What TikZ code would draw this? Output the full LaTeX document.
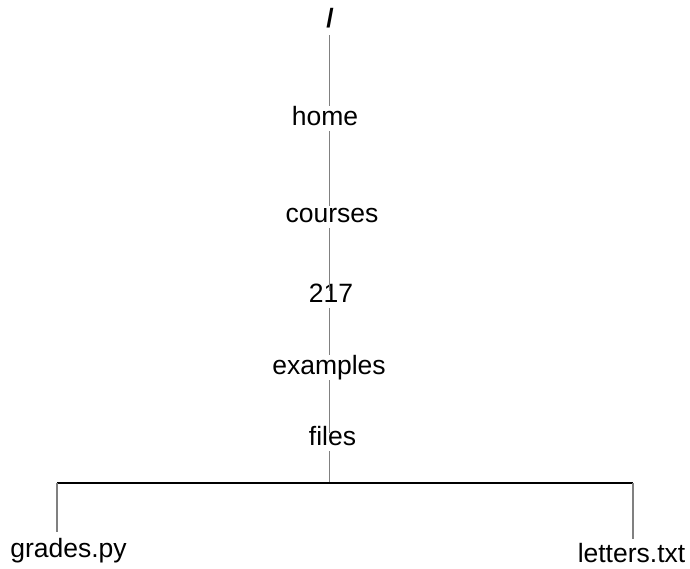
\documentclass[tikz,border=0pt]{standalone}
\usepackage{fontspec}
\setmainfont{Liberation Sans}
\begin{document}
\begin{tikzpicture}[x=1pt,y=-1pt,
  lbl/.style={inner sep=0pt, text height=19pt, text depth=6pt, anchor=base,
    font=\fontsize{26.5}{30}\selectfont},
  vlink/.style={draw=gray, line width=1.3pt},
  hlink/.style={draw=black, line width=1.3pt}]
\useasboundingbox (0,0) rectangle (690,568);
\coordinate (bm) at (329.3,483);
\coordinate (bl) at (57,483);
\coordinate (br) at (633,483);
\node[lbl] (root) at (330,27) {\textbf{/}};
\node[lbl] (home) at (325,125) {home};
\node[lbl] (courses) at (332,222) {courses};
\node[lbl] (n217) at (331,302) {217};
\node[lbl] (examples) at (329,374) {examples};
\node[lbl] (files) at (332.5,445) {files};
\node[lbl] (grades) at (68.5,557) {grades.py};
\node[lbl, text depth=1pt] (letters) at (631.5,562) {letters.txt};
\draw[vlink, shorten <=2pt] (root.south -| bm) -- (home.north -| bm);
\draw[vlink, shorten >=-3pt] (home.south -| bm) -- (courses.north -| bm);
\draw[vlink, shorten >=-8pt] (courses.south -| bm) -- (n217.north -| bm);
\draw[vlink] (n217.south -| bm) -- (examples.north -| bm);
\draw[vlink, shorten >=-7pt] (examples.south -| bm) -- (files.north -| bm);
\draw[vlink] (files.south -| bm) -- (bm);
\draw[hlink] (bl) -- (br);
\draw[vlink, shorten >=6pt] (bl) -- (bl |- grades.north);
\draw[vlink, shorten >=4pt] (br) -- (br |- letters.north);
\end{tikzpicture}
\end{document}
